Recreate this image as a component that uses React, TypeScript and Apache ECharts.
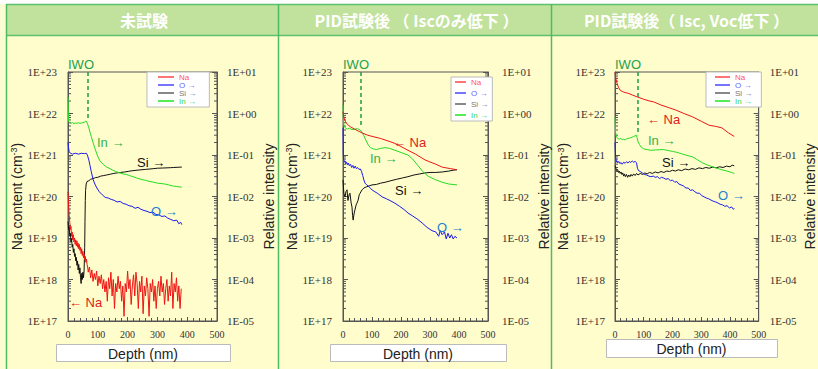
import React, { useEffect, useRef } from 'react';
import * as echarts from 'echarts';

// ---------- texts ----------
const panelTitles = ['未試験', 'PID試験後 （ Iscのみ低下 ）', 'PID試験後（ Isc, Voc低下 ）'];
const seriesNames = ['Na', 'O →', 'Si →', 'In →'];
const depthTicks = [0, 100, 200, 300, 400, 500];
const decadesLeft = [1e17, 1e18, 1e19, 1e20, 1e21, 1e22];
const minorMultipliers = [2, 3, 4, 5, 6, 7, 8, 9];

// IWO boundary depth (nm) and lower end of the dashed marker (cm-3)
const iwoDepth = [67, 62, 78];
const iwoEnd = [7.7e21, 4.7e21, 3.0e21];

// ---------- panel 1 : 未試験 ----------
const na1: [number, number][] = [
  [0, 1.3e20], [2, 6e19], [4, 3.5e19], [6, 2.4e19], [8, 1.6e19], [10, 1.9e19], [12, 1.1e19], [14, 1.4e19],
  [16, 9e18], [18, 1.2e19], [20, 8e18], [22, 1.0e19], [24, 7e18], [26, 9e18], [28, 6.5e18], [30, 8.5e18],
  [32, 6e18], [34, 7.5e18], [36, 5.5e18], [38, 7e18], [40, 5e18], [42, 6e18], [44, 4.2e18], [46, 5.5e18],
  [48, 3.8e18], [50, 4.8e18], [52, 3.3e18], [54, 4.2e18], [56, 3e18], [58, 3.6e18], [60, 2.6e18], [62, 3.1e18],
  [64, 2.3e18], [66, 2.0e18], [68, 1.5e18], [72, 2.0e18], [76, 1.1e18], [80, 1.7e18], [84, 9e17], [88, 1.4e18],
  [92, 1.0e18], [96, 1.6e18], [100, 7e17], [104, 1.2e18], [108, 8e17], [112, 1.3e18], [116, 6e17], [120, 1.0e18],
  [124, 5e17], [128, 9e17], [132, 3e17], [136, 1.1e18], [140, 6e17], [144, 1.5e18], [148, 4e17], [152, 1.0e18],
  [156, 2e17], [160, 8e17], [164, 5e17], [168, 1.2e18], [172, 6e17], [176, 9e17], [180, 3e17], [184, 7e17],
  [188, 1.3e17], [192, 8e17], [196, 5e17], [200, 1.6e18], [204, 6e17], [208, 1.0e18], [212, 2.5e17], [216, 7e17],
  [220, 1.3e18], [224, 4e17], [228, 1.5e18], [232, 8e17], [236, 2e17], [240, 9e17], [244, 5e17], [248, 1.2e18],
  [252, 1.5e17], [256, 7e17], [260, 4e17], [264, 1.1e18], [268, 6e17], [272, 1.3e17], [276, 8e17], [280, 5e17],
  [284, 1.0e18], [288, 3e17], [292, 7e17], [296, 2e17], [300, 6e17], [304, 9e17], [308, 4e17], [312, 1.2e18],
  [316, 5e17], [320, 8e17], [324, 2.5e17], [328, 6e17], [332, 1.0e18], [336, 3e17], [340, 7e17], [344, 4e17],
  [348, 1.5e18], [352, 2e17], [356, 8e17], [360, 5e17], [364, 1.1e18], [368, 3e17], [372, 7e17], [376, 2e17], [380, 6e17],
];
const si1: [number, number][] = [
  [0, 2.5e-3], [2, 1.6e-3], [4, 1.9e-3], [6, 1.1e-3], [8, 1.3e-3], [10, 8e-4], [12, 9.5e-4], [14, 6e-4],
  [16, 7e-4], [18, 4.5e-4], [20, 5.5e-4], [22, 3.6e-4], [24, 4.2e-4], [26, 2.8e-4], [28, 3.4e-4], [30, 2.2e-4],
  [32, 2.8e-4], [34, 1.7e-4], [36, 2.3e-4], [38, 1.4e-4], [40, 1.9e-4], [42, 1.1e-4], [44, 8e-5], [46, 1.4e-4],
  [48, 1.0e-4], [50, 1.5e-4], [52, 1.1e-4], [54, 1.6e-4], [56, 6e-4], [57, 2.5e-3], [58, 8e-3], [59, 1.4e-2],
  [61, 2.0e-2], [64, 2.3e-2], [70, 2.4e-2], [76, 2.6e-2], [84, 2.7e-2], [92, 2.85e-2], [100, 2.9e-2], [110, 3.1e-2],
  [120, 3.2e-2], [130, 3.3e-2], [142, 3.45e-2], [154, 3.6e-2], [164, 3.7e-2], [176, 3.8e-2], [190, 3.9e-2],
  [204, 4.05e-2], [218, 4.2e-2], [232, 4.3e-2], [245, 4.4e-2], [260, 4.5e-2], [275, 4.6e-2], [288, 4.7e-2],
  [300, 4.8e-2], [316, 4.85e-2], [332, 4.9e-2], [344, 4.95e-2], [355, 5.0e-2], [366, 5.05e-2], [376, 5.1e-2], [382, 5.1e-2],
];
const in1: [number, number][] = [
  [0, 2.5], [1, 1.2], [2, 0.65], [5, 0.6], [10, 0.58], [15, 0.6], [20, 0.57], [25, 0.59], [30, 0.58], [35, 0.6],
  [40, 0.58], [45, 0.59], [50, 0.6], [55, 0.62], [60, 0.66], [63, 0.62], [66, 0.55], [70, 0.45], [74, 0.35],
  [78, 0.28], [84, 0.2], [91, 0.14], [98, 0.1], [107, 0.072], [120, 0.058], [130, 0.051], [141, 0.047],
  [150, 0.043], [160, 0.04], [174, 0.037], [185, 0.035], [195, 0.034], [206, 0.032], [218, 0.03], [230, 0.028],
  [245, 0.026], [260, 0.0245], [275, 0.023], [288, 0.022], [300, 0.021], [312, 0.0205], [325, 0.02], [338, 0.019],
  [350, 0.018], [363, 0.0175], [376, 0.017], [382, 0.0168],
];
const o1: [number, number][] = [
  [0, 0.2], [2, 0.15], [4, 0.12], [8, 0.11], [15, 0.105], [25, 0.11], [35, 0.105], [45, 0.11], [55, 0.108],
  [62, 0.11], [66, 0.095], [70, 0.075], [74, 0.055], [78, 0.04], [84, 0.026], [90, 0.02], [97, 0.016],
  [105, 0.013], [115, 0.011], [125, 0.0095], [135, 0.0092], [145, 0.0085], [155, 0.0081], [165, 0.0074],
  [175, 0.0076], [185, 0.0068], [195, 0.0065], [205, 0.006], [215, 0.0058], [225, 0.0052], [235, 0.0055],
  [245, 0.0049], [255, 0.0046], [265, 0.0044], [275, 0.0041], [285, 0.0042], [295, 0.0037], [305, 0.0036],
  [315, 0.0033], [325, 0.0034], [335, 0.003], [345, 0.0028], [355, 0.0026], [365, 0.0027], [372, 0.0022],
  [378, 0.0024], [382, 0.0021],
];

// ---------- panel 2 : PID試験後 (Iscのみ低下) ----------
const na2: [number, number][] = [
  [0, 1.1e22], [3, 8e21], [8, 6.5e21], [15, 5.5e21], [25, 4.8e21], [40, 4.2e21], [55, 3.7e21], [66, 3.4e21],
  [85, 3.0e21], [110, 2.7e21], [130, 2.5e21], [145, 2.3e21], [162, 2.1e21], [179, 1.9e21], [200, 1.6e21],
  [224, 1.3e21], [250, 1.05e21], [268, 8.8e20], [283, 7.6e20], [300, 6.8e20], [320, 6.0e20], [342, 5.1e20],
  [370, 4.7e20], [393, 4.4e20],
];
const si2: [number, number][] = [
  [0, 0.025], [3, 0.012], [7, 0.0098], [10, 0.013], [14, 0.0145], [17, 0.008], [21, 0.011], [24, 0.012],
  [28, 0.007], [31, 0.0056], [33, 0.0035], [35, 0.0027], [38, 0.0038], [41, 0.0047], [45, 0.0062], [48, 0.0069],
  [52, 0.0081], [56, 0.011], [59, 0.012], [63, 0.0135], [66, 0.0145], [72, 0.016], [80, 0.017], [90, 0.018],
  [100, 0.019], [115, 0.0195], [130, 0.021], [145, 0.022], [165, 0.024], [185, 0.026], [205, 0.028], [224, 0.03],
  [245, 0.033], [265, 0.035], [283, 0.037], [300, 0.038], [320, 0.038], [342, 0.039], [365, 0.041], [380, 0.043], [393, 0.044],
];
const in2: [number, number][] = [
  [0, 1.6], [1, 0.8], [3, 0.5], [8, 0.45], [15, 0.42], [22, 0.44], [30, 0.41], [41, 0.42], [50, 0.43], [59, 0.4],
  [66, 0.35], [72, 0.29], [80, 0.22], [88, 0.17], [95, 0.15], [105, 0.14], [115, 0.135], [130, 0.145], [145, 0.15],
  [160, 0.145], [179, 0.13], [200, 0.115], [224, 0.1], [240, 0.08], [259, 0.055], [275, 0.04], [293, 0.031],
  [315, 0.026], [342, 0.022], [365, 0.02], [393, 0.019],
];
const o2: [number, number][] = [
  [0, 0.45], [1, 0.1], [3, 0.075], [6, 0.07], [9, 0.062], [12, 0.068], [15, 0.058], [18, 0.064], [22, 0.055],
  [26, 0.06], [30, 0.05], [34, 0.056], [38, 0.048], [42, 0.054], [46, 0.047], [50, 0.05], [55, 0.045], [60, 0.046],
  [64, 0.04], [68, 0.032], [72, 0.025], [76, 0.021], [82, 0.019], [90, 0.017], [100, 0.0145], [110, 0.013],
  [120, 0.0118], [135, 0.0098], [150, 0.0088], [165, 0.0078], [179, 0.0069], [195, 0.0058], [210, 0.0049],
  [224, 0.004], [240, 0.0034], [255, 0.0029], [273, 0.0023], [290, 0.0018], [307, 0.0015], [320, 0.0014],
  [330, 0.0011], [335, 0.0015], [342, 0.0012], [350, 0.0014], [356, 0.00095], [362, 0.0013], [368, 0.001],
  [374, 0.0012], [380, 0.00095], [386, 0.0011], [393, 0.001],
];

// ---------- panel 3 : PID試験後 (Isc, Voc低下) ----------
const na3: [number, number][] = [
  [0, 1.0e23], [2, 8e22], [4, 6.5e22], [7, 5.4e22], [12, 4.3e22], [17, 3.7e22], [25, 3.4e22], [35, 3.2e22],
  [44, 3.1e22], [60, 2.8e22], [78, 2.5e22], [100, 2.2e22], [120, 2.0e22], [135, 1.9e22], [160, 1.6e22],
  [185, 1.4e22], [213, 1.2e22], [240, 1.0e22], [270, 8.3e21], [300, 6.5e21], [328, 5.2e21], [350, 4.9e21],
  [372, 4.5e21], [395, 3.4e21], [415, 2.8e21],
];
const si3: [number, number][] = [
  [0, 0.055], [3, 0.048], [6, 0.042], [9, 0.045], [12, 0.038], [15, 0.041], [18, 0.036], [21, 0.039], [24, 0.034],
  [27, 0.037], [30, 0.031], [33, 0.035], [36, 0.03], [40, 0.034], [44, 0.029], [48, 0.033], [52, 0.03], [56, 0.034],
  [60, 0.031], [65, 0.035], [70, 0.032], [75, 0.036], [80, 0.033], [88, 0.036], [96, 0.034], [104, 0.037],
  [112, 0.035], [120, 0.038], [130, 0.036], [140, 0.039], [150, 0.037], [160, 0.04], [170, 0.038], [180, 0.041],
  [190, 0.04], [200, 0.043], [210, 0.041], [220, 0.044], [232, 0.042], [244, 0.046], [256, 0.044], [268, 0.047],
  [280, 0.045], [292, 0.049], [304, 0.047], [316, 0.05], [328, 0.048], [340, 0.051], [352, 0.049], [364, 0.052],
  [376, 0.05], [388, 0.054], [400, 0.052], [408, 0.057], [415, 0.055],
];
const in3: [number, number][] = [
  [0, 0.8], [2, 0.35], [5, 0.27], [10, 0.25], [15, 0.24], [20, 0.25], [25, 0.235], [30, 0.24], [35, 0.23],
  [40, 0.245], [45, 0.25], [50, 0.255], [55, 0.26], [60, 0.27], [65, 0.28], [70, 0.29], [74, 0.3], [77, 0.26],
  [80, 0.21], [85, 0.18], [91, 0.155], [100, 0.14], [112, 0.135], [125, 0.13], [140, 0.132], [155, 0.134],
  [169, 0.135], [185, 0.128], [200, 0.122], [213, 0.117], [230, 0.108], [250, 0.098], [270, 0.09], [285, 0.078],
  [304, 0.065], [320, 0.058], [340, 0.052], [355, 0.048], [372, 0.044], [390, 0.041], [405, 0.038], [415, 0.036],
];
const o3: [number, number][] = [
  [0, 0.2], [2, 0.09], [5, 0.07], [9, 0.064], [13, 0.07], [17, 0.062], [21, 0.066], [25, 0.06], [30, 0.067],
  [35, 0.063], [40, 0.069], [45, 0.064], [50, 0.07], [55, 0.066], [60, 0.072], [65, 0.067], [70, 0.07], [75, 0.065],
  [78, 0.048], [82, 0.042], [88, 0.04], [95, 0.037], [102, 0.034], [110, 0.033], [118, 0.031], [125, 0.03],
  [133, 0.031], [140, 0.029], [148, 0.03], [155, 0.027], [162, 0.029], [169, 0.028], [177, 0.026], [185, 0.027],
  [193, 0.024], [200, 0.025], [208, 0.022], [215, 0.023], [222, 0.02], [230, 0.019], [238, 0.018], [247, 0.016],
  [255, 0.016], [262, 0.014], [270, 0.0145], [278, 0.013], [286, 0.012], [294, 0.012], [302, 0.0105], [310, 0.0098],
  [318, 0.0092], [326, 0.0088], [334, 0.0082], [342, 0.0077], [350, 0.0074], [358, 0.007], [366, 0.0065],
  [374, 0.0063], [382, 0.0058], [390, 0.006], [398, 0.0053], [406, 0.0056], [412, 0.0049], [415, 0.0052],
];

const panelData = [
  { na: na1, o: o1, si: si1, inn: in1 },
  { na: na2, o: o2, si: si2, inn: in2 },
  { na: na3, o: o3, si: si3, inn: in3 },
];

// ---------- layout / style ----------
const grids = [
  { left: 68, top: 72, width: 149, height: 249 },
  { left: 343, top: 72, width: 145, height: 249 },
  { left: 615, top: 72, width: 148, height: 249 },
];
const panelBounds = [
  { x0: 6, x1: 278 },
  { x0: 278, x1: 551 },
  { x0: 551, x1: 818 },
];
const leftNameGap = [41, 41, 45];
const rightNameGap = [45, 49, 39];
const leftLabelMargin = [11, 11, 10];
const rightLabelMargin = [10, 14, 11];
const depthBoxes = [
  { x: 56, y: 344, w: 174, h: 17 },
  { x: 330, y: 344, w: 176, h: 17 },
  { x: 606, y: 339, w: 171, h: 18 },
];
const legendLayouts = [
  { left: 147, top: 72, itemWidth: 16, itemGap: 0, padding: [1, 13, 2, 11] },
  { left: 451, top: 77, itemWidth: 11, itemGap: 3, padding: [1, 4, 2, 4] },
  { left: 706, top: 72, itemWidth: 15, itemGap: 0, padding: [1, 9, 2, 9] },
];
// annotation labels: [text, color, x, y] (pixel layout)
const annotations: [string, string, number, number][][] = [
  [['In →', '#33b24a', 97, 142], ['Si →', '#111', 137, 162], ['O →', '#1f7fd0', 151, 211], ['← Na', '#e02020', 69, 302]],
  [['← Na', '#e02020', 393, 142], ['In →', '#33b24a', 370, 158], ['Si →', '#111', 395, 190], ['O →', '#1f7fd0', 437, 227]],
  [['← Na', '#e02020', 647, 119], ['In →', '#33b24a', 648, 140], ['Si →', '#111', 662, 162], ['O →', '#1f7fd0', 718, 195]],
];

const COLORS = { na: '#ee1515', o: '#1a1aee', si: '#111111', inn: '#22dd22' };
const SERIF = "'Liberation Serif', 'Times New Roman', serif";
const SANS = "'Liberation Sans', Arial, sans-serif";
const CJK = "'Noto Sans CJK JP', 'Noto Sans', sans-serif";

const expLabel = (v: number) => {
  const e = Math.round(Math.log10(v));
  return '1E' + (e >= 0 ? '+' : '-') + String(Math.abs(e)).padStart(2, '0');
};

const minorTickValues: number[] = [];
decadesLeft.forEach((d) => minorMultipliers.forEach((m) => minorTickValues.push(m * d)));

export default function App() {
  const ref = useRef<HTMLDivElement>(null);

  useEffect(() => {
    if (!ref.current) return;
    const chart = echarts.init(ref.current, undefined, { renderer: 'svg' });

    const xAxis: any[] = [];
    const yAxis: any[] = [];
    const series: any[] = [];
    const legend: any[] = [];
    const graphic: any[] = [];

    // backgrounds
    graphic.push({ type: 'rect', z: -100, shape: { x: 0, y: 0, width: 818, height: 369 }, style: { fill: '#ffffff' } });
    graphic.push({ type: 'rect', z: -99, shape: { x: 0, y: 4, width: 6, height: 365 }, style: { fill: '#fbfcd2' } });
    graphic.push({ type: 'rect', z: -99, shape: { x: 6, y: 35, width: 812, height: 334 }, style: { fill: '#fffdcc' } });
    graphic.push({ type: 'rect', z: -99, shape: { x: 6, y: 4, width: 812, height: 31 }, style: { fill: '#c1e29c' } });
    graphic.push({ type: 'line', z: -98, shape: { x1: 6, y1: 4.5, x2: 818, y2: 4.5 }, style: { stroke: '#5cc06c', lineWidth: 1.5 } });
    graphic.push({ type: 'line', z: -98, shape: { x1: 6, y1: 35.5, x2: 818, y2: 35.5 }, style: { stroke: '#5cc06c', lineWidth: 1.5 } });
    [6.5, 278.5, 551.5].forEach((x) =>
      graphic.push({ type: 'line', z: -98, shape: { x1: x, y1: 4, x2: x, y2: 369 }, style: { stroke: '#4dbb5f', lineWidth: 1.5 } })
    );

    grids.forEach((g, i) => {
      const pb = panelBounds[i];
      const d = panelData[i];
      // title
      graphic.push({
        type: 'text', z: 10, x: (pb.x0 + pb.x1) / 2 + 2, y: 20,
        style: { text: panelTitles[i], fill: '#ffffff', fontSize: 16, fontWeight: 'bold', fontFamily: CJK, textAlign: 'center', textVerticalAlign: 'middle' },
      });
      // IWO label
      graphic.push({
        type: 'text', z: 10, x: g.left, y: 64,
        style: { text: 'IWO', fill: '#22a04e', fontSize: 13, fontFamily: SANS, textAlign: 'left', textVerticalAlign: 'middle' },
      });
      // depth box
      const b = depthBoxes[i];
      graphic.push({ type: 'rect', z: 5, shape: { x: b.x + 0.5, y: b.y + 0.5, width: b.w, height: b.h }, style: { fill: '#ffffff', stroke: '#bbbbbb', lineWidth: 1 } });
      graphic.push({
        type: 'text', z: 6, x: b.x + b.w / 2, y: b.y + b.h / 2 + 1,
        style: { text: 'Depth (nm)', fill: '#222', fontSize: 14, fontFamily: SANS, textAlign: 'center', textVerticalAlign: 'middle' },
      });
      // annotations
      annotations[i].forEach(([t, c, x, y]) =>
        graphic.push({ type: 'text', z: 20, x, y, style: { text: t, fill: c, fontSize: 13, fontFamily: SANS, textAlign: 'left', textVerticalAlign: 'middle' } })
      );

      xAxis.push({
        gridIndex: i, type: 'value', min: 0, max: 500, interval: 100,
        axisLine: { show: true, lineStyle: { color: '#555', width: 1 } },
        axisTick: { show: true, inside: true, length: 4, lineStyle: { color: '#555' } },
        minorTick: { show: true, splitNumber: 5, length: 3, lineStyle: { color: '#555' } },
        splitLine: { show: false },
        axisLabel: { fontFamily: SERIF, fontSize: 10, color: '#333', margin: 8 },
      });
      yAxis.push({
        gridIndex: i, type: 'log', logBase: 10, min: 1e17, max: 1e23, position: 'left', splitNumber: 6,
        name: 'Na content (cm{s|-3})', nameLocation: 'middle', nameRotate: 90, nameGap: leftNameGap[i],
        nameTextStyle: { fontFamily: SANS, fontSize: 14, color: '#222', rich: { s: { fontFamily: SANS, fontSize: 9, color: '#222', verticalAlign: 'top' } } },
        axisLine: { show: true, lineStyle: { color: '#555', width: 1 } },
        axisTick: { show: true, inside: true, length: 5, lineStyle: { color: '#555' } },
        splitLine: { show: false },
        axisLabel: { fontFamily: SERIF, fontSize: 11, color: '#333', margin: leftLabelMargin[i], formatter: expLabel },
      });
      yAxis.push({
        gridIndex: i, type: 'log', logBase: 10, min: 1e-5, max: 1e1, position: 'right', splitNumber: 6,
        name: 'Relative intensity', nameLocation: 'middle', nameRotate: 90, nameGap: rightNameGap[i],
        nameTextStyle: { fontFamily: SANS, fontSize: 14, color: '#222' },
        axisLine: { show: true, lineStyle: { color: '#555', width: 1 } },
        axisTick: { show: true, inside: true, length: 5, lineStyle: { color: '#555' } },
        splitLine: { show: false },
        axisLabel: { fontFamily: SERIF, fontSize: 11, color: '#333', margin: rightLabelMargin[i], formatter: expLabel },
      });

      const base = { type: 'line', xAxisIndex: i, showSymbol: false, symbol: 'none', silent: true, lineStyle: { width: 1 } };
      series.push({ ...base, name: seriesNames[2], yAxisIndex: 2 * i + 1, data: d.si, color: COLORS.si, lineStyle: { width: 1, color: COLORS.si } });
      series.push({ ...base, name: seriesNames[1], yAxisIndex: 2 * i + 1, data: d.o, color: COLORS.o, lineStyle: { width: 1, color: COLORS.o } });
      series.push({ ...base, name: seriesNames[3], yAxisIndex: 2 * i + 1, data: d.inn, color: COLORS.inn, lineStyle: { width: 1, color: COLORS.inn } });
      series.push({
        ...base, name: seriesNames[0], yAxisIndex: 2 * i, data: d.na, color: COLORS.na, lineStyle: { width: 1, color: COLORS.na },
        markLine: {
          silent: true, symbol: ['none', 'none'], label: { show: false },
          lineStyle: { color: '#1f9a4a', type: [4, 3], width: 1.5 },
          data: [[{ coord: [iwoDepth[i], 1e23] }, { coord: [iwoDepth[i], iwoEnd[i]] }]],
        },
      });
      // logarithmic minor ticks on both vertical axes
      series.push({
        type: 'custom', xAxisIndex: i, yAxisIndex: 2 * i, silent: true, clip: false,
        data: minorTickValues.map((v) => [0, v]),
        renderItem: (_p: any, api: any) => {
          const v = api.value(1);
          const pl = api.coord([0, v]);
          const pr = api.coord([500, v]);
          return {
            type: 'group',
            children: [
              { type: 'line', shape: { x1: pl[0], y1: pl[1], x2: pl[0] + 3, y2: pl[1] }, style: { stroke: '#555', lineWidth: 1 } },
              { type: 'line', shape: { x1: pr[0], y1: pr[1], x2: pr[0] - 3, y2: pr[1] }, style: { stroke: '#555', lineWidth: 1 } },
            ],
          };
        },
      });

      const L = legendLayouts[i];
      legend.push({
        orient: 'vertical', left: L.left, top: L.top, itemWidth: L.itemWidth, itemHeight: 2, itemGap: L.itemGap,
        padding: L.padding, backgroundColor: '#ffffff', borderColor: '#bbbbbb', borderWidth: 1, icon: 'rect',
        selectedMode: false, textStyle: { fontSize: 8, lineHeight: 8, fontFamily: SANS },
        data: [
          { name: seriesNames[0], itemStyle: { color: '#ff7474' }, textStyle: { color: '#ff5a5a' } },
          { name: seriesNames[1], itemStyle: { color: '#7474ff' }, textStyle: { color: '#6464ff' } },
          { name: seriesNames[2], itemStyle: { color: '#888888' }, textStyle: { color: '#777777' } },
          { name: seriesNames[3], itemStyle: { color: '#55ee55' }, textStyle: { color: '#3ed83e' } },
        ],
      });
    });

    chart.setOption({
      animation: false,
      grid: grids.map((g) => ({ ...g, show: true, borderColor: '#555', borderWidth: 1, backgroundColor: 'transparent' })),
      xAxis, yAxis, series, legend, graphic,
    });
    return () => chart.dispose();
  }, []);

  return <div ref={ref} style={{ position: 'absolute', left: 0, top: 0, width: 818, height: 369 }} />;
}
